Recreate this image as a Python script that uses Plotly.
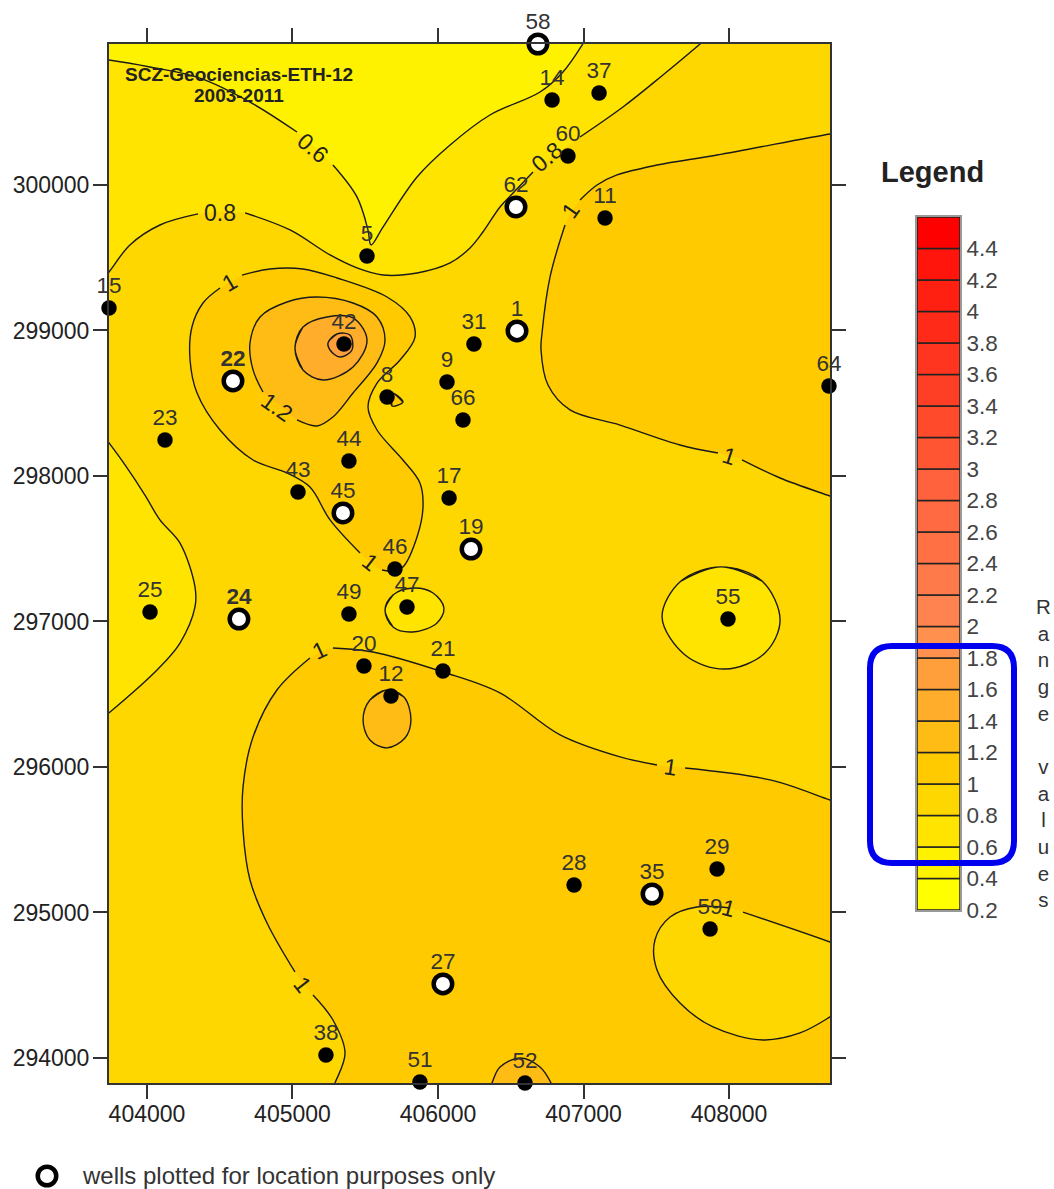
import plotly.graph_objects as go

W, H = 1054, 1189
FONT = "Liberation Sans"

c06_x = [403608,403739,404021,404364,404708,405031,None,405278,405443,405519,405540,405622,405856,406083,406357,406701,406859,406990,407079]
c06_y = [300873,300859,300811,300735,300570,300364,None,300137,299918,299691,299588,299711,300055,300275,300481,300639,300777,300962,301120]
c08_x = [403608,403739,403883,404089,404351,None,404674,404983,405258,405443,405622,405856,406083,406220,406309,406426,406516,406653,None,406976,407271,407546,407801,407973]
c08_y = [299244,299402,299588,299725,299801,None,299808,299691,299519,299430,299381,299395,299464,299567,299677,299849,299945,300089,None,300330,300536,300756,300969,301120]
lobe_x = [403643,403739,403849,403986,404089,404227,404330,404330,404227,404069,403746,403608]
lobe_y = [298350,298227,298076,297869,297698,297539,297237,297100,296852,296667,296378,296268]
right_x = [408832,408694,407918,407505,407230,407093,406976,None,406873,406770,406715,406708,406756,406907,407251,407663,407924,None,408089,408351,408694,408832]
right_y = [300371,300351,300206,300137,300069,300000,299897,None,299725,299368,298983,298866,298625,298454,298350,298213,298158,None,298110,297986,297862,297814]
bottom_x = [408832,408694,408282,407698,None,407505,407251,406839,406426,406034,405553,405278,None,405120,404893,404729,404660,404660,404708,404825,405017,None,405141,405278,405361,405292,405223]
bottom_y = [295725,295773,295911,295993,None,296014,296069,296220,296509,296653,296790,296818,None,296749,296529,296206,295862,295567,295223,294928,294591,None,294433,294261,294034,293828,293677]
hole_x = [408832,408694,408096,None,408007,407780,407595,407491,407505,407663,407890,408234,408488,408694,408832]
hole_y = [294742,294797,295003,None,295031,295038,294969,294811,294605,294378,294213,294124,294172,294282,294378]
b12_x = [405649,405766,405814,405773,405649,405532,405485,405532]
b12_y = [296529,296481,296323,296199,296131,296185,296323,296460]
b52_x = [406330,406371,406426,406564,406701,406777,406818]
b52_y = [293711,293828,293938,294000,293938,293828,293711]
central_x = [404653,404845,405072,405306,405650,405808,405842,405739,405581,405519,405581,405759,405876,405897,405856,405759,405704,405615,None,405464,405258,405120,404962,404729,404502,404344,404296,404309,404385,404502]
central_y = [299381,299423,299423,299361,299230,299093,298955,298797,298639,298474,298316,298110,297952,297787,297581,297374,297347,297354,None,297471,297698,297924,298021,298110,298316,298570,298797,299024,299189,299292]
c12_x = [405031,405168,405278,405416,405581,405636,405581,405416,405168,404962,404777,404708,404729,404797]
c12_y = [298385,298344,298405,298570,298777,298935,299093,299189,299230,299196,299093,298914,298729,298577]
c14_x = [405017,405072,405237,405416,405512,405416,405210,405072]
c14_y = [298880,299024,299093,299086,298935,298749,298660,298729]
c16_x = [405244,405306,405395,405409,405326,405258]
c16_y = [298914,298976,298969,298866,298818,298866]
tiny_x = [405684,405759,405684]
tiny_y = [298570,298509,298481]
b47_x = [405636,405691,405828,405966,406041,405993,405828,405691]
b47_y = [297079,297182,297230,297196,297093,296990,296928,296962]
b55_x = [407945,408227,408351,408247,407973,407698,407540,407670]
b55_y = [297375,297278,297010,296783,296673,296770,297031,297278]

# ---- wells
dot_names = ["14","37","60","11","5","15","31","42","9","8","66","23","44","43","17","46","47","49","25","55","64","20","21","12","28","29","59","38","51","52"]
dot_x = [406784,407107,406893,407148,405512,403739,406247,405354,406062,405650,406172,404124,405388,405038,406076,405704,405787,405388,404021,407993,408687,405491,406034,405677,406935,407918,407870,405230,405876,406598]
dot_y = [300584,300632,300199,299773,299512,299155,298907,298907,298646,298543,298385,298247,298103,297890,297849,297361,297100,297052,297065,297017,298619,296694,296660,296488,295189,295299,294887,294021,293835,293828]
ring_names = ["58","62","1","<b>22</b>","45","19","<b>24</b>","35","27"]
ring_x = [406687,406536,406543,404591,405347,406227,404632,407471,406034]
ring_y = [300969,299849,298997,298653,297746,297498,297017,295127,294509]
key_x, key_y = [0], [0]

# ---- contour labels
clabel_text = ["0.6","0.8","1","1.2","0.8","1","1","1","1","1","1","1"]
clabel_x = [405141,404502,404570,404893,406749,406914,408000,407601,405189,405533,405072,407993]
clabel_y = [300254,299808,299333,298474,300192,299828,298137,296000,296804,297409,294502,295031]
clabel_angle = [40,0,-30,35,-40,-55,18,8,-25,38,52,15]

# ---- colour scale
level_base = [0.2,0.4,0.6,0.8,1.0,1.2,1.4,1.6,1.8,2.0,2.2,2.4,2.6,2.8,3.0,3.2,3.4,3.6,3.8,4.0,4.2,4.4]
level_color = ["#FFFF00","#FFF200","#FFE400","#FFD700","#FFCB00","#FFBC14","#FFAD2B","#FF9F3C","#FF904D","#FF8350","#FF7A4B","#FF7045","#FF6A42","#FF623C","#FF5533","#FF4A2C","#FF3F25","#FF351F","#FF2A18","#FF2012","#FF150C","#FF0000"]
tick_levels = [0.2,0.4,0.6,0.8,1,1.2,1.4,1.6,1.8,2,2.2,2.4,2.6,2.8,3,3.2,3.4,3.6,3.8,4,4.2,4.4]
x_ticks = [404000,405000,406000,407000,408000]
y_ticks = [294000,295000,296000,297000,298000,299000,300000]
x_range = [403739, 408694]
y_range = [293828, 300969]


def px(v): return v / W
def py(v): return 1 - v / H


fig = go.Figure()


def region(xs, ys, color, extra_x=(), extra_y=(), closed=False):
    xs, ys = list(xs), list(ys)
    if closed:
        xs = [xs[-1]] + xs + xs[:2]
        ys = [ys[-1]] + ys + ys[:2]
    fx = [v for v in xs if v is not None] + list(extra_x)
    fy = [v for v in ys if v is not None] + list(extra_y)
    fig.add_trace(go.Scatter(x=fx, y=fy, mode="lines", fill="toself", fillcolor=color,
                             line=dict(width=0, shape="spline", smoothing=1, simplify=False), hoverinfo="skip"))
    fig.add_trace(go.Scatter(x=xs, y=ys, mode="lines",
                             line=dict(width=1.4, color="#1a1a1a", shape="spline", smoothing=1, simplify=False), hoverinfo="skip"))


C = dict(zip(["y", "c04", "c06", "c08", "c10", "c12", "c14", "c16"], level_color))
region(c08_x, c08_y, C["c06"], [408000, 402000, 402000], [303000, 303000, 299244])
region(c06_x, c06_y, C["c04"], [407100, 402000, 402000], [303000, 303000, 300873])
region(lobe_x, lobe_y, C["c06"], [402000, 402000], [296268, 298350])
region(b47_x, b47_y, C["c06"], closed=True)
region(b55_x, b55_y, C["c06"], closed=True)
region(right_x, right_y, C["c10"], [411000, 411000], [297814, 300371])
region(bottom_x, bottom_y, C["c10"], [405223, 411000, 411000], [291000, 291000, 295725])
region(hole_x, hole_y, C["c08"], [411000, 411000], [294378, 294742])
region(b12_x, b12_y, C["c12"], closed=True)
region(b52_x, b52_y, C["c12"], [406818, 406330], [291000, 291000])
region(central_x, central_y, C["c10"])
region(tiny_x, tiny_y, C["c10"], closed=True)
region(c12_x, c12_y, C["c12"])
region(c14_x, c14_y, C["c14"], closed=True)
region(c16_x, c16_y, C["c16"], closed=True)

# wells
fig.add_trace(go.Scatter(x=dot_x, y=dot_y, mode="markers", cliponaxis=False,
                         marker=dict(size=15.5, color="black"), hoverinfo="skip"))
fig.add_trace(go.Scatter(x=ring_x, y=ring_y, mode="markers", cliponaxis=False,
                         marker=dict(size=18.5, color="white", line=dict(width=4.5, color="black")), hoverinfo="skip"))
fig.add_trace(go.Scatter(x=dot_x + ring_x, y=dot_y + ring_y, mode="markers+text", cliponaxis=False,
                         text=dot_names + ring_names, textposition="top center",
                         textfont=dict(size=22.5, color="#333333", family=FONT),
                         marker=dict(size=14, opacity=0), hoverinfo="skip"))
fig.add_trace(go.Scatter(x=key_x, y=key_y, mode="markers", xaxis="x3", yaxis="y3",
                         marker=dict(size=18.5, color="white", line=dict(width=4.5, color="black")), hoverinfo="skip"))

# legend bar
fig.add_trace(go.Bar(x=[0] * len(level_base), y=[0.2] * len(level_base), base=level_base, width=1,
                     marker=dict(color=level_color, line=dict(color="#222222", width=1.5)),
                     xaxis="x2", yaxis="y2", hoverinfo="skip"))

ann = []
for t, x, y, a in zip(clabel_text, clabel_x, clabel_y, clabel_angle):
    ann.append(dict(x=x, y=y, xref="x", yref="y", text=t, textangle=a, showarrow=False,
                    font=dict(size=23, color="#222222", family=FONT)))
ann.append(dict(x=404632, y=300756, xref="x", yref="y", text="<b>SCZ-Geociencias-ETH-12</b>", showarrow=False,
                font=dict(size=19, color="#222222", family=FONT)))
ann.append(dict(x=404632, y=300612, xref="x", yref="y", text="<b>2003-2011</b>", showarrow=False,
                font=dict(size=19, color="#222222", family=FONT)))
ann.append(dict(x=px(932), y=py(172), xref="paper", yref="paper", xanchor="center", yanchor="middle",
                text="<b>Legend</b>", showarrow=False, font=dict(size=29, color="#222222", family=FONT)))
ann.append(dict(x=px(1043), y=py(753), xref="paper", yref="paper", xanchor="center", yanchor="middle",
                showarrow=False, align="center",
                text="R<br>a<br>n<br>g<br>e<br> <br>v<br>a<br>l<br>u<br>e<br>s",
                font=dict(size=20.5, color="#333333", family=FONT)))
ann.append(dict(x=px(80), y=py(1175), xref="paper", yref="paper", xanchor="left", yanchor="middle", showarrow=False,
                text="wells plotted for location purposes only",
                font=dict(size=24, color="#333333", family=FONT)))

x0, x1, y0, y1, r = px(870), px(1014), py(646), py(863), 22
rx, ry = r / W, r / H
blue = (f"M {x0+rx} {y0} L {x1-rx} {y0} Q {x1} {y0} {x1} {y0-ry} L {x1} {y1+ry} Q {x1} {y1} {x1-rx} {y1} "
        f"L {x0+rx} {y1} Q {x0} {y1} {x0} {y1+ry} L {x0} {y0-ry} Q {x0} {y0} {x0+rx} {y0} Z")

axis_common = dict(showgrid=False, zeroline=False, showline=True, linecolor="#333333", linewidth=2,
                   mirror="ticks", ticks="outside", ticklen=14, tickwidth=2, tickcolor="#333333",
                   tickformat="d", automargin=False, tickfont=dict(size=23, color="#222222", family=FONT))

fig.update_layout(
    width=W, height=H, margin=dict(l=0, r=0, t=0, b=0), autosize=False,
    paper_bgcolor="white", plot_bgcolor="white", showlegend=False, barmode="overlay",
    xaxis=dict(domain=[px(109), px(830)], range=x_range, tickvals=x_ticks, ticklabelstandoff=-5, **axis_common),
    yaxis=dict(domain=[py(1083), py(44)], range=y_range, tickvals=y_ticks, ticklabelstandoff=-1, **axis_common),
    xaxis2=dict(domain=[px(917), px(960)], range=[-0.5, 0.5], anchor="y2", showticklabels=False, ticks="", automargin=False,
                showgrid=False, zeroline=False, showline=True, mirror=True, linecolor="#999999", linewidth=2),
    yaxis2=dict(domain=[py(910), py(217)], range=[0.2, 4.6], anchor="x2", side="right", tickvals=tick_levels, automargin=False,
                ticktext=[str(v) for v in tick_levels], ticks="", showgrid=False, zeroline=False,
                showline=True, mirror=True, linecolor="#999999", linewidth=2,
                tickfont=dict(size=22.5, color="#444444", family=FONT)),
    xaxis3=dict(domain=[px(27), px(67)], range=[-1, 1], anchor="y3", visible=False, automargin=False),
    yaxis3=dict(domain=[py(1189), py(1163)], range=[-1, 1], anchor="x3", visible=False, automargin=False),
    annotations=ann,
    shapes=[
        dict(type="rect", xref="x", yref="y", x0=x_range[0], x1=x_range[1], y0=y_range[0], y1=y_range[1],
             fillcolor=C["c08"], line=dict(width=0), layer="below"),
        dict(type="path", xref="paper", yref="paper", path=blue, line=dict(color="#0000EE", width=6)),
    ],
)

fig.write_html("out.html", post_script="document.body.style.margin='0';", config=dict(displayModeBar=False))
